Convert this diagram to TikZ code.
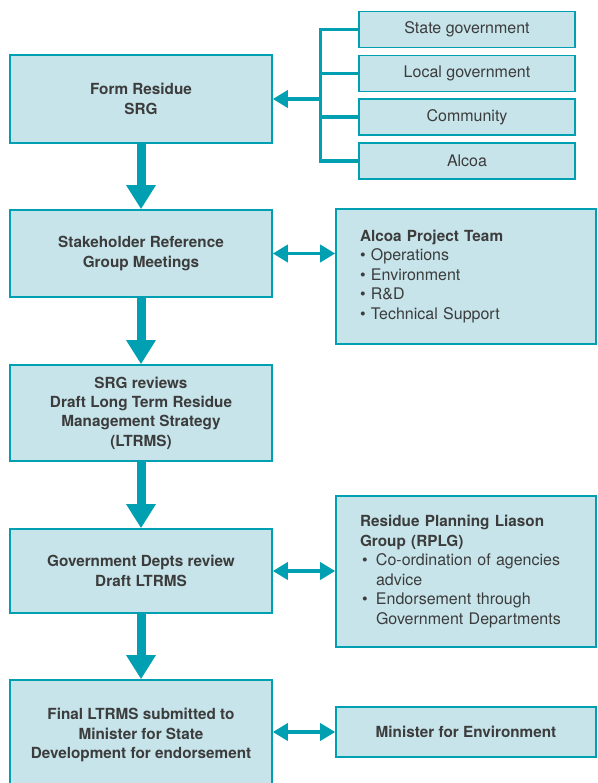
\documentclass[tikz,border=0pt]{standalone}
\usepackage{fontspec}
\setmainfont{TeX Gyre Heros}
\usetikzlibrary{arrows.meta}

\definecolor{boxfill}{RGB}{198,228,234}
\definecolor{tealline}{RGB}{0,160,178}
\definecolor{ink}{RGB}{60,60,60}

\newcommand{\headfont}{\fontsize{15.3}{19.4}\selectfont\bfseries}
\newcommand{\bodyfont}{\fontsize{16}{19.5}\selectfont}
\newcommand{\itembullet}{\makebox[16pt][l]{\hspace{2pt}\textbullet}}

\tikzset{
  box/.style={draw=tealline, fill=boxfill, line width=1.6pt, text=ink, inner sep=0pt},
  stepbox/.style={box, minimum width=262pt, font=\headfont, align=center},
  partybox/.style={box, minimum width=216pt, minimum height=36pt, font=\bodyfont},
  infobox/.style={box, minimum width=260pt, text width=212pt, align=left, font=\bodyfont},
  bigarrow/.style={draw=tealline, line width=9pt, -{Triangle[length=24pt, width=28pt]}},
  bracket/.style={draw=tealline, line width=3.5pt, line join=miter},
  thinarrow/.style={draw=tealline, line width=3.5pt, -{Triangle[length=15pt, width=17pt]}},
  twoway/.style={draw=tealline, line width=3.5pt,
    {Triangle[length=15pt, width=17pt]}-{Triangle[length=15pt, width=17pt]}},
}

\begin{document}
\begin{tikzpicture}[x=1pt, y=1pt]
  \useasboundingbox (0,0) rectangle (597,-783);
  \clip (0,0) rectangle (597,-783);

  % main sequence of steps
  \node[stepbox, minimum height=88pt] (b1) at (141,-99) {Form Residue\\SRG};
  \node[stepbox, minimum height=87pt] (b2) at (141,-253.5) {Stakeholder Reference\\Group Meetings};
  \node[stepbox, minimum height=96pt] (b3) at (141,-413) {SRG reviews\\Draft Long Term Residue\\Management Strategy\\(LTRMS)};
  \node[stepbox, minimum height=84pt] (b4) at (141,-571) {Government Depts review\\Draft LTRMS};
  \node[stepbox, minimum height=110pt] (b5) at (141,-735) {Final LTRMS submitted to\\Minister for State\\Development for endorsement};

  % parties forming the SRG
  \node[partybox] (sa) at (467,-29.5) {State government};
  \node[partybox] (sb) at (467,-73.5) {Local government};
  \node[partybox] (sc) at (467,-117) {Community};
  \node[partybox] (sd) at (467,-161) {Alcoa};

  % side boxes
  \node[infobox, minimum height=135pt] (team) at (466,-276.5) {%
    {\headfont Alcoa Project Team}\\
    \textbullet\ Operations\\
    \textbullet\ Environment\\
    \textbullet\ R\&D\\
    \textbullet\ Technical Support};
  \node[infobox, minimum height=151pt] (rplg) at (466,-571.5) {%
    {\headfont Residue Planning Liason}\\
    {\headfont Group (RPLG)}\\
    \itembullet Co-ordination of agencies\\
    \hspace*{16pt}advice\\
    \itembullet Endorsement through\\
    \hspace*{16pt}Government Departments};
  \node[box, minimum width=260pt, minimum height=50pt, font=\headfont] (minister) at (466,-732) {Minister for Environment};

  % flow between steps
  \draw[bigarrow] (b1.south) -- (b2.north);
  \draw[bigarrow] (b2.south) -- (b3.north);
  \draw[bigarrow] (b3.south) -- (b4.north);
  \draw[bigarrow] (b4.south) -- (b5.north);

  % bracket joining the parties
  \coordinate (hub) at (320.7,-99);
  \draw[bracket] (sa.west) -| (hub) |- (sd.west);
  \draw[bracket] (sb.west) -- (sb.west -| hub);
  \draw[bracket] (sc.west) -- (sc.west -| hub);
  \draw[thinarrow] (hub) -- (b1.east);

  % two-way links
  \draw[twoway] (b2.east) -- (b2.east -| team.west);
  \draw[twoway] (b4.east) -- (b4.east -| rplg.west);
  \draw[twoway] (b5.east |- minister.west) -- (minister.west);
\end{tikzpicture}
\end{document}
